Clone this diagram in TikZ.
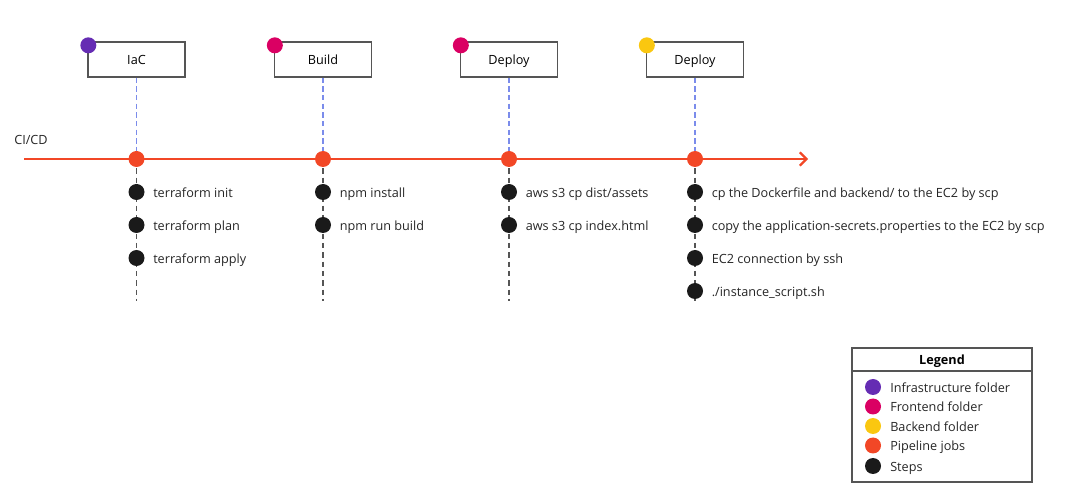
\documentclass[tikz,border=0pt]{standalone}
\usepackage{fontspec}
\setmainfont{Open Sans}
\usetikzlibrary{arrows.meta}
\definecolor{cpurple}{HTML}{652CB3}
\definecolor{cpink}{HTML}{DA0063}
\definecolor{cyellow}{HTML}{FAC710}
\definecolor{corange}{HTML}{F24726}
\definecolor{cblack}{HTML}{1A1A1A}
\definecolor{cblue}{HTML}{7B8CEB}
\definecolor{cgray}{HTML}{555555}
\definecolor{cbox}{HTML}{555555}
\begin{document}
\begin{tikzpicture}[x=0.75pt,y=-0.75pt,
  font=\fontsize{9.5pt}{11pt}\selectfont,
  jobbox/.style={draw=cbox,line width=1pt,minimum width=97*0.75pt,minimum height=35*0.75pt,inner sep=0pt,fill=white,text height=9pt,text depth=0.8pt},
  dot/.style={circle,fill=#1,minimum size=16*0.75pt,inner sep=0pt},
  lbl/.style={anchor=west,inner sep=0pt,text=black!85,text height=9pt,text depth=0.8pt},
  blueline/.style={draw=cblue,dashed,line width=0.8pt,dash pattern=on 4pt off 2.5pt},
  grayline/.style={draw=cgray,line width=0.9pt,dash pattern=on 4pt off 3pt}]
\useasboundingbox (0,0) rectangle (1065,495);
% main line
\coordinate (start) at (24,159);
\coordinate (end) at (808,159);
\draw[corange,line width=2.2pt,-{Straight Barb[length=5pt,width=10pt,line width=1.6pt]}] (start) -- (end);
\node[lbl] (cicd) at (14,139) {CI/CD};
% columns
\foreach \n/\x/\t/\c in {a/136.5/IaC/cpurple, b/323/Build/cpink, c/509/Deploy/cpink, d/695/Deploy/cyellow}{
  \draw[grayline] (\x,159) -- (\x,301);
  \node[jobbox] (box\n) at (\x,59.5) {\t};
  \node[dot=corange] (job\n) at (\x,159) {};
  \draw[blueline] (box\n.south) -- (job\n.north);
  \node[dot=\c] (tag\n) at ([shift={(1,4)}]box\n.north west) {};
}
% steps
\foreach \n/\x/\y/\t in {a1/136.5/192/{terraform init}, a2/136.5/225/{terraform plan}, a3/136.5/258/{terraform apply},
  b1/323/192/{npm install}, b2/323/225/{npm run build},
  c1/509/192/{aws s3 cp dist/assets}, c2/509/225/{aws s3 cp index.html},
  d1/695/192/{cp the Dockerfile and backend/ to the EC2 by scp},
  d2/695/225/{copy the application-secrets.properties to the EC2 by scp},
  d3/695/258/{EC2 connection by ssh}, d4/695/291/{./instance\_script.sh}}{
  \node[dot=cblack] (s\n) at (\x,\y) {};
  \node[lbl] (t\n) at (\x+16.5,\y) {\t};
}
% legend
\draw[cbox,line width=1pt] (852,348) rectangle (1032,482);
\draw[cbox,line width=1pt] (852,371) -- (1032,371);
\node[font=\fontsize{9.5pt}{11pt}\selectfont\bfseries,text height=9pt,text depth=0.8pt,inner sep=0pt] (legtitle) at (942,359.5) {Legend};
\foreach \n/\y/\c/\t in {l1/387/cpurple/{Infrastructure folder}, l2/406.5/cpink/{Frontend folder}, l3/426/cyellow/{Backend folder}, l4/445.5/corange/{Pipeline jobs}, l5/466/cblack/{Steps}}{
  \node[dot=\c] (\n) at (873,\y) {};
  \node[lbl] (\n t) at (890,\y) {\t};
}
\end{tikzpicture}
\end{document}
